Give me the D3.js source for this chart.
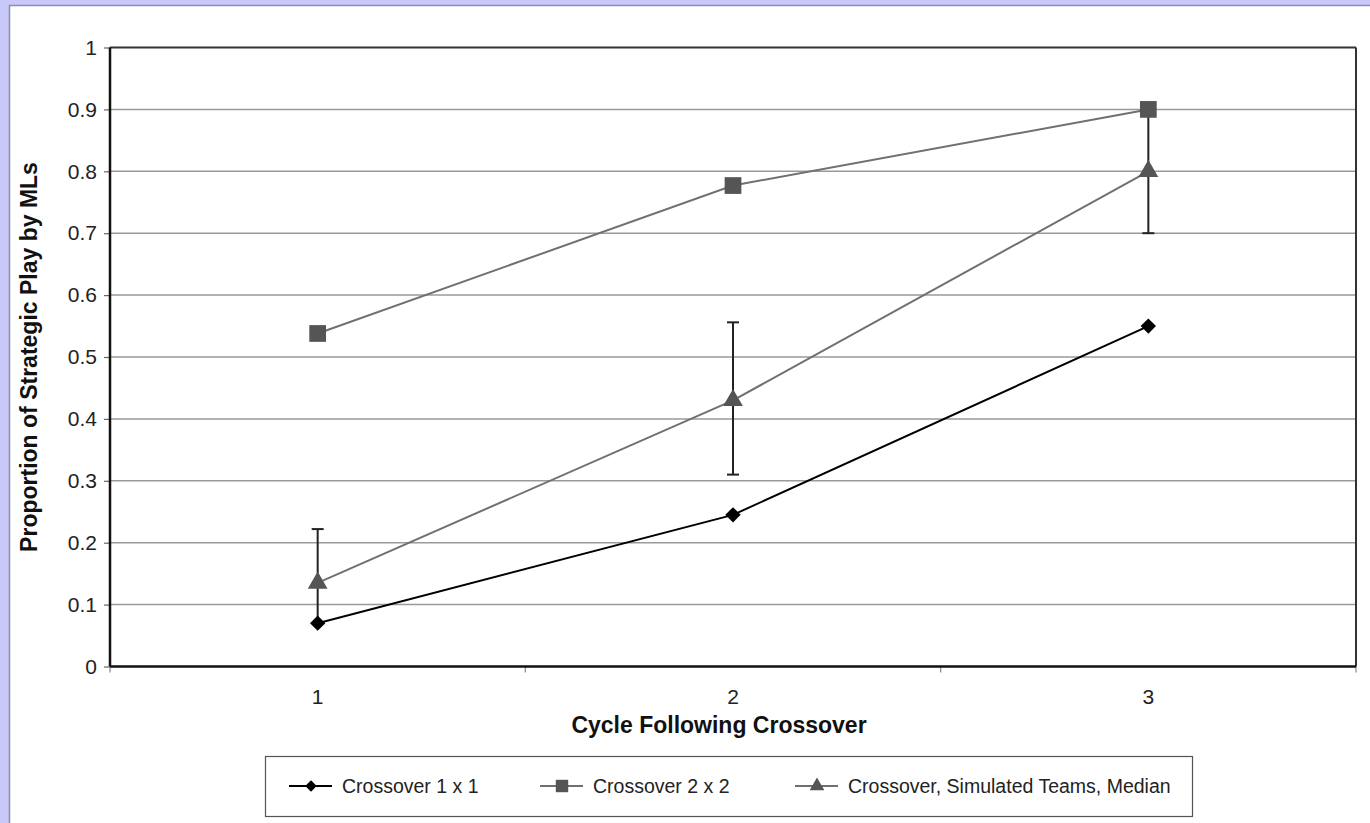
<!DOCTYPE html>
<html>
<head>
<meta charset="utf-8">
<script src="https://cdn.jsdelivr.net/npm/d3@7"></script>
<style>
  html, body { margin: 0; padding: 0; background: #c9c9f9; }
  svg { display: block; }
  .grid line { stroke: #9a9a9a; stroke-width: 1.5; }
  .tick text { font-family: "Liberation Sans", Arial, sans-serif; fill: #222; }
  .title { font-family: "Liberation Sans", Arial, sans-serif; font-weight: bold; fill: #111; }
  .legend text { font-family: "Liberation Sans", Arial, sans-serif; fill: #222; }
</style>
</head>
<body>
<script>
// data
let cycles = ["1", "2", "3"];
let yTicks = [0, 0.1, 0.2, 0.3, 0.4, 0.5, 0.6, 0.7, 0.8, 0.9, 1];
let seriesNames = ["Crossover 1 x 1", "Crossover 2 x 2", "Crossover, Simulated Teams, Median"];
let cross1x1 = [0.07, 0.245, 0.55];
let cross2x2 = [0.538, 0.777, 0.90];
let simMedian = [0.135, 0.43, 0.80];
let simLow = [0.07, 0.31, 0.70];
let simHigh = [0.222, 0.556, 0.90];

function createChart(){
    let W = 1370, H = 823;
    let margin = { top: 47.5, right: 14, bottom: 156.5, left: 110 },
      width = W - margin.left - margin.right,
      height = H - margin.top - margin.bottom;

    let svg = d3.select("body").append("svg")
      .attr("width", W)
      .attr("height", H);

    // white page with thin border
    svg.append("rect")
      .attr("x", 9.5).attr("y", 5.5)
      .attr("width", W).attr("height", H)
      .attr("fill", "#fff")
      .attr("stroke", "#8c8cb4")
      .attr("stroke-width", 1.5);

    let g = svg.append("g")
      .attr("transform", "translate(" + margin.left + "," + margin.top + ")");

    let x = d3.scaleBand()
      .domain(cycles)
      .range([0, width])
      .padding(0);

    let y = d3.scaleLinear()
      .domain([0, 1])
      .range([height, 0]);

    // gridlines
    g.append("g")
      .attr("class", "grid")
      .selectAll("line")
      .data(yTicks.filter(function(d) { return d > 0 && d < 1; }))
      .enter().append("line")
      .attr("x1", 0).attr("x2", width)
      .attr("y1", function(d) { return y(d); })
      .attr("y2", function(d) { return y(d); });

    // y axis
    let yaxis = g.append("g")
      .call(d3.axisLeft(y).tickValues(yTicks).tickFormat(d3.format("")).tickSize(6).tickPadding(7));
    yaxis.select(".domain").remove();
    yaxis.selectAll(".tick line").attr("stroke", "#666").attr("stroke-width", 1.2);
    yaxis.selectAll(".tick text").style("font-size", "21px");

    // x axis, ticks at category boundaries (excel style)
    let xaxis = g.append("g")
      .attr("transform", "translate(0," + height + ")")
      .call(d3.axisBottom(x).tickSize(0).tickPadding(23));
    xaxis.select(".domain").remove();
    xaxis.selectAll(".tick text").style("font-size", "21px");

    let bounds = cycles.map(function(c) { return x(c); }).concat([width]);
    g.append("g").selectAll("line")
      .data(bounds)
      .enter().append("line")
      .attr("x1", function(d) { return d; }).attr("x2", function(d) { return d; })
      .attr("y1", height).attr("y2", height + 6)
      .attr("stroke", "#888").attr("stroke-width", 1.2);

    // plot frame
    g.append("line").attr("x1", 0).attr("x2", width).attr("y1", 0).attr("y2", 0)
      .attr("stroke", "#333").attr("stroke-width", 2);
    g.append("line").attr("x1", width).attr("x2", width).attr("y1", 0).attr("y2", height)
      .attr("stroke", "#333").attr("stroke-width", 2);
    g.append("line").attr("x1", 0).attr("x2", 0).attr("y1", 0).attr("y2", height)
      .attr("stroke", "#111").attr("stroke-width", 2.5);
    g.append("line").attr("x1", 0).attr("x2", width).attr("y1", height).attr("y2", height)
      .attr("stroke", "#111").attr("stroke-width", 2.5);

    let cx = function(i) { return x(cycles[i]) + x.bandwidth() / 2; };

    let series = [
      { name: seriesNames[0], values: cross1x1, line: "#000", fill: "#000", shape: d3.symbolDiamond2, size: 150 },
      { name: seriesNames[1], values: cross2x2, line: "#707070", fill: "#555", shape: d3.symbolSquare, size: 280 },
      { name: seriesNames[2], values: simMedian, line: "#707070", fill: "#555", shape: d3.symbolTriangle, size: 170 }
    ];

    let line = d3.line()
      .x(function(d, i) { return cx(i); })
      .y(function(d) { return y(d); });

    // lines
    series.forEach(function(s) {
      g.append("path")
        .datum(s.values)
        .attr("fill", "none")
        .attr("stroke", s.line)
        .attr("stroke-width", 2)
        .attr("d", line);
    });

    // error bars for simulated teams
    let err = g.append("g").attr("stroke", "#222").attr("stroke-width", 2);
    simMedian.forEach(function(v, i) {
      err.append("line")
        .attr("x1", cx(i)).attr("x2", cx(i))
        .attr("y1", y(simLow[i])).attr("y2", y(simHigh[i]));
      [simLow[i], simHigh[i]].forEach(function(e) {
        err.append("line")
          .attr("x1", cx(i) - 6).attr("x2", cx(i) + 6)
          .attr("y1", y(e)).attr("y2", y(e));
      });
    });

    // markers, drawn so the black diamonds sit on top
    [series[2], series[1], series[0]].forEach(function(s) {
      g.append("g").selectAll("path")
        .data(s.values)
        .enter().append("path")
        .attr("transform", function(d, i) { return "translate(" + cx(i) + "," + y(d) + ")"; })
        .attr("d", d3.symbol().type(s.shape).size(s.size))
        .attr("fill", s.fill);
    });

    // axis titles
    svg.append("text")
      .attr("class", "title")
      .attr("x", 719)
      .attr("y", 733)
      .attr("text-anchor", "middle")
      .style("font-size", "23px")
      .text("Cycle Following Crossover");

    svg.append("text")
      .attr("class", "title")
      .attr("transform", "translate(37," + (margin.top + height / 2) + ") rotate(-90)")
      .attr("text-anchor", "middle")
      .style("font-size", "23px")
      .text("Proportion of Strategic Play by MLs");

    // legend
    let legend = svg.append("g").attr("class", "legend");
    legend.append("rect")
      .attr("x", 265.5).attr("y", 756.5)
      .attr("width", 927).attr("height", 60)
      .attr("fill", "#fff")
      .attr("stroke", "#555")
      .attr("stroke-width", 1.2);

    let legendX = [289, 540, 795];
    series.forEach(function(s, i) {
      let item = legend.append("g")
        .attr("transform", "translate(" + legendX[i] + ",786)");
      item.append("line")
        .attr("x1", 0).attr("x2", 43)
        .attr("stroke", s.line).attr("stroke-width", 2);
      item.append("path")
        .attr("transform", "translate(22,0)")
        .attr("d", d3.symbol().type(s.shape).size(s.size * 0.55))
        .attr("fill", s.fill);
      item.append("text")
        .attr("x", 53)
        .attr("dy", "0.35em")
        .style("font-size", "19.5px")
        .text(s.name);
    });
}

createChart();
</script>
</body>
</html>
